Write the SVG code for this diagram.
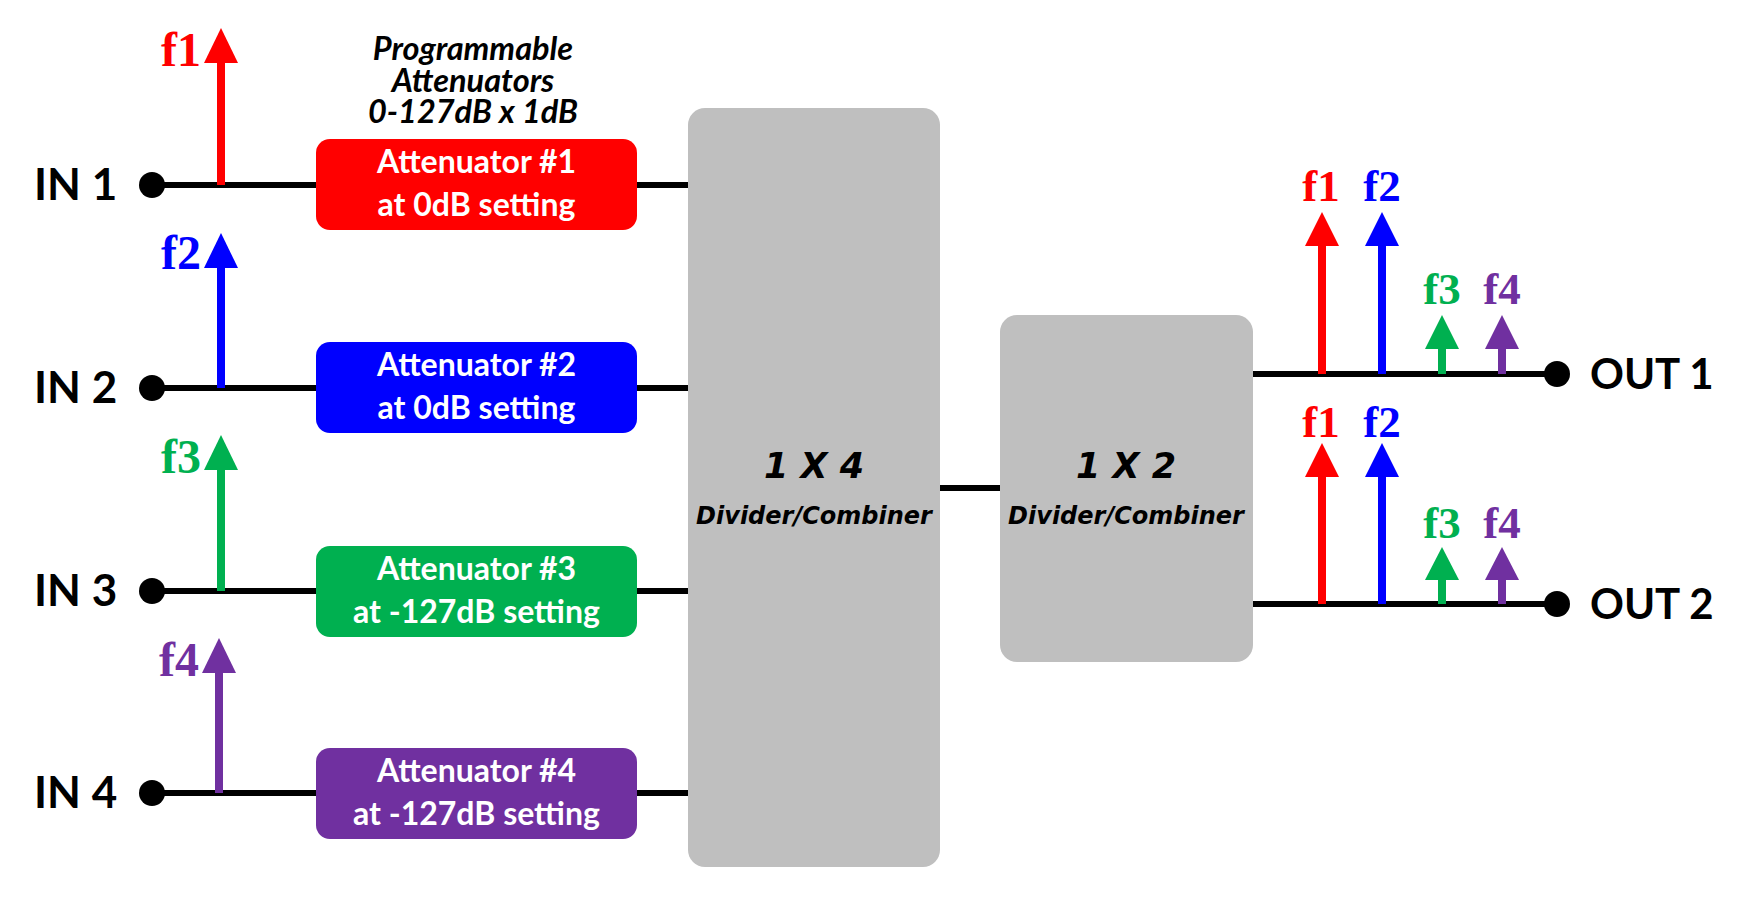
<svg xmlns="http://www.w3.org/2000/svg" width="1759" height="903" viewBox="0 0 1759 903">
<style>
.ln{stroke:#000;stroke-width:6;fill:none}
.dot{fill:#000}
.io{font-family:Lato,"Liberation Sans",sans-serif;font-weight:bold;font-size:44px;fill:#000}
.att{font-family:Lato,"Liberation Sans",sans-serif;font-weight:bold;font-size:32px;fill:#fff;text-anchor:middle}
.prog{font-family:Lato,"Liberation Sans",sans-serif;font-weight:bold;font-style:italic;font-size:32.5px;fill:#000;text-anchor:middle}
.fl{font-family:"Liberation Serif",serif;font-weight:bold;font-size:48px}
.fr{font-family:"Liberation Serif",serif;font-weight:bold;font-size:45px;text-anchor:middle}
.gbox{fill:#bfbfbf}
.big{font-family:"DejaVu Sans",Verdana,sans-serif;font-weight:bold;font-style:italic;font-size:35px;fill:#000;text-anchor:middle}
.sub{font-family:"DejaVu Sans",Verdana,sans-serif;font-weight:bold;font-style:italic;font-size:24px;fill:#000;text-anchor:middle}
.r{fill:#ff0000;stroke:#ff0000}.b{fill:#0000ff;stroke:#0000ff}.g{fill:#00b050;stroke:#00b050}.p{fill:#7030a0;stroke:#7030a0}
.shaft{stroke-width:8}
.rt{fill:#ff0000}.bt{fill:#0000ff}.gt{fill:#00b050}.pt{fill:#7030a0}
</style>

<g id="connectors">
  <line class="ln" x1="152" y1="185" x2="316" y2="185"/>
  <line class="ln" x1="152" y1="388" x2="316" y2="388"/>
  <line class="ln" x1="152" y1="591" x2="316" y2="591"/>
  <line class="ln" x1="152" y1="793" x2="316" y2="793"/>
  <line class="ln" x1="637" y1="185" x2="688" y2="185"/>
  <line class="ln" x1="637" y1="388" x2="688" y2="388"/>
  <line class="ln" x1="637" y1="591" x2="688" y2="591"/>
  <line class="ln" x1="637" y1="793" x2="688" y2="793"/>
  <line class="ln" x1="940" y1="488" x2="1000" y2="488"/>
  <line class="ln" x1="1253" y1="374" x2="1557" y2="374"/>
  <line class="ln" x1="1253" y1="604" x2="1557" y2="604"/>
</g>

<g id="in1">
  <text class="io" x="34" y="200">IN 1</text>
  <circle class="dot" cx="152" cy="185" r="13"/>
</g>
<g id="in2">
  <text class="io" x="34" y="403">IN 2</text>
  <circle class="dot" cx="152" cy="388" r="13"/>
</g>
<g id="in3">
  <text class="io" x="34" y="606">IN 3</text>
  <circle class="dot" cx="152" cy="591" r="13"/>
</g>
<g id="in4">
  <text class="io" x="34" y="808">IN 4</text>
  <circle class="dot" cx="152" cy="793" r="13"/>
</g>

<g id="spectrum-in">
  <line class="r shaft" x1="221" y1="185" x2="221" y2="60"/>
  <polygon class="rt" points="221,28 204,63 238,63"/>
  <text class="fl rt" x="201" y="66" text-anchor="end">f1</text>
  <line class="b shaft" x1="221" y1="388" x2="221" y2="265"/>
  <polygon class="bt" points="221,233 204,268 238,268"/>
  <text class="fl bt" x="201" y="269" text-anchor="end">f2</text>
  <line class="g shaft" x1="221" y1="591" x2="221" y2="467"/>
  <polygon class="gt" points="221,435 204,470 238,470"/>
  <text class="fl gt" x="201" y="473" text-anchor="end">f3</text>
  <line class="p shaft" x1="219" y1="793" x2="219" y2="670"/>
  <polygon class="pt" points="219,638 202,673 236,673"/>
  <text class="fl pt" x="199" y="676" text-anchor="end">f4</text>
</g>

<g id="prog-label">
  <text class="prog" x="473" y="60">Programmable</text>
  <text class="prog" x="473" y="92">Attenuators</text>
  <text class="prog" x="473" y="123">0-127dB x 1dB</text>
</g>

<g id="att1">
  <rect x="316" y="139" width="321" height="91" rx="14" fill="#ff0000"/>
  <text class="att" x="476.5" y="173">Attenuator #1</text>
  <text class="att" x="476.5" y="216">at 0dB setting</text>
</g>
<g id="att2">
  <rect x="316" y="342" width="321" height="91" rx="14" fill="#0000ff"/>
  <text class="att" x="476.5" y="376">Attenuator #2</text>
  <text class="att" x="476.5" y="419">at 0dB setting</text>
</g>
<g id="att3">
  <rect x="316" y="546" width="321" height="91" rx="14" fill="#00b050"/>
  <text class="att" x="476.5" y="580">Attenuator #3</text>
  <text class="att" x="476.5" y="623">at -127dB setting</text>
</g>
<g id="att4">
  <rect x="316" y="748" width="321" height="91" rx="14" fill="#7030a0"/>
  <text class="att" x="476.5" y="782">Attenuator #4</text>
  <text class="att" x="476.5" y="825">at -127dB setting</text>
</g>

<g id="div1x4">
  <rect class="gbox" x="688" y="108" width="252" height="759" rx="17"/>
  <text class="big" x="814" y="478">1 X 4</text>
  <text class="sub" x="814" y="524">Divider/Combiner</text>
</g>
<g id="div1x2">
  <rect class="gbox" x="1000" y="315" width="253" height="347" rx="17"/>
  <text class="big" x="1126" y="478">1 X 2</text>
  <text class="sub" x="1126" y="524">Divider/Combiner</text>
</g>

<g id="spectrum-out1">
  <line class="r shaft" x1="1322" y1="374" x2="1322" y2="243"/>
  <polygon class="rt" points="1322,212 1305,246 1339,246"/>
  <text class="fr rt" x="1321" y="201">f1</text>
  <line class="b shaft" x1="1382" y1="374" x2="1382" y2="243"/>
  <polygon class="bt" points="1382,212 1365,246 1399,246"/>
  <text class="fr bt" x="1382" y="201">f2</text>
  <line class="g shaft" x1="1442" y1="374" x2="1442" y2="346"/>
  <polygon class="gt" points="1442,315 1425,349 1459,349"/>
  <text class="fr gt" x="1442" y="304">f3</text>
  <line class="p shaft" x1="1502" y1="374" x2="1502" y2="346"/>
  <polygon class="pt" points="1502,315 1485,349 1519,349"/>
  <text class="fr pt" x="1502" y="304">f4</text>
</g>
<g id="spectrum-out2">
  <line class="r shaft" x1="1322" y1="604" x2="1322" y2="474"/>
  <polygon class="rt" points="1322,443 1305,477 1339,477"/>
  <text class="fr rt" x="1321" y="437">f1</text>
  <line class="b shaft" x1="1382" y1="604" x2="1382" y2="474"/>
  <polygon class="bt" points="1382,443 1365,477 1399,477"/>
  <text class="fr bt" x="1382" y="437">f2</text>
  <line class="g shaft" x1="1442" y1="604" x2="1442" y2="577"/>
  <polygon class="gt" points="1442,547 1425,580 1459,580"/>
  <text class="fr gt" x="1442" y="538">f3</text>
  <line class="p shaft" x1="1502" y1="604" x2="1502" y2="577"/>
  <polygon class="pt" points="1502,547 1485,580 1519,580"/>
  <text class="fr pt" x="1502" y="538">f4</text>
</g>

<g id="out1">
  <circle class="dot" cx="1557" cy="374" r="13"/>
  <text class="io" x="1590" y="389" style="font-size:42px">OUT 1</text>
</g>
<g id="out2">
  <circle class="dot" cx="1557" cy="604" r="13"/>
  <text class="io" x="1590" y="619" style="font-size:42px">OUT 2</text>
</g>
</svg>
